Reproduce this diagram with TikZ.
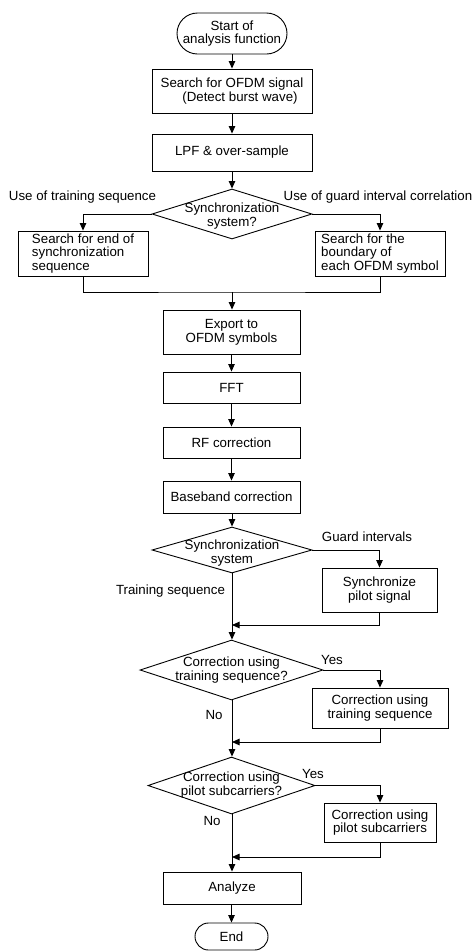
\documentclass[tikz,border=0pt]{standalone}
\usepackage{fontspec}
\setmainfont{Liberation Sans}
\usetikzlibrary{arrows.meta,shapes.geometric}
\tikzset{
  every node/.style={font=\fontsize{13.3}{13.6}\selectfont, inner sep=0pt},
  box/.style={draw, line width=0.9pt, rectangle, align=center},
  term/.style={draw, line width=0.9pt, rectangle, align=center},
  dia/.style={draw, line width=0.9pt, diamond, inner sep=0pt},
  diatext/.style={align=center},
  lbl/.style={align=center},
  ln/.style={line width=0.9pt},
  arr/.style={line width=0.9pt, -{Triangle[length=7.5pt,width=6.5pt]}}
}
\begin{document}
\begin{tikzpicture}[x=1pt,y=-1pt]
\useasboundingbox (0,0) rectangle (474,951);
% nodes
\node[term, rounded corners=20.5pt, minimum width=110pt, minimum height=41pt] (start) at (232,33.5) {Start of\\analysis function};
\node[box, minimum width=160pt, minimum height=44pt] (b1) at (232,91) {Search for OFDM signal\\\hspace*{1.2em}(Detect burst wave)};
\node[box, minimum width=160pt, minimum height=37pt] (b2) at (232,152.5) {LPF \& over-sample};
\node[dia, minimum width=160pt, minimum height=50pt] (d1) at (232,214) {};
\node[diatext] (d1t) at (232,216) {Synchronization\\system?};
\node[lbl] (l1) at (82.5,197) {Use of training sequence};
\node[lbl] (l2) at (378,197) {Use of guard interval correlation};
\node[box, align=left, minimum width=130pt, minimum height=45pt] (L) at (83,253.5) {Search for end of\\synchronization\\sequence};
\node[box, align=left, minimum width=130pt, minimum height=45pt] (R) at (380,253.5) {Search for the\\boundary of\\each OFDM symbol};
\coordinate (m1) at (232,292);
\node[box, minimum width=137pt, minimum height=44pt] (ex) at (231.5,332) {Export to\\OFDM symbols};
\node[box, minimum width=137pt, minimum height=31pt] (fft) at (231.5,387.5) {FFT};
\node[box, minimum width=137pt, minimum height=31pt] (rf) at (231.5,442.5) {RF correction};
\node[box, minimum width=137pt, minimum height=32pt] (bb) at (231.5,497) {Baseband correction};
\node[dia, minimum width=160pt, minimum height=46pt] (d2) at (232,550) {};
\node[diatext] (d2t) at (232,553) {Synchronization\\system};
\node[lbl] (l3) at (367,537) {Guard intervals};
\node[box, minimum width=115pt, minimum height=44pt] (s) at (379.5,590) {Synchronize\\pilot signal};
\node[lbl] (l4) at (170.5,591) {Training sequence};
\coordinate (j2) at (232,625);
\node[dia, minimum width=183pt, minimum height=60pt] (d3) at (231.5,670) {};
\node[diatext] (d3t) at (231.5,670) {Correction using\\training sequence?};
\node[lbl] (l5) at (332,660) {Yes};
\node[box, minimum width=136pt, minimum height=40pt] (c1) at (380,708) {Correction using\\training sequence};
\node[lbl] (l6) at (214,715) {No};
\coordinate (j3) at (232,742);
\node[dia, minimum width=167pt, minimum height=57pt] (d4) at (231.5,785.5) {};
\node[diatext] (d4t) at (231.5,785) {Correction using\\pilot subcarriers?};
\node[lbl] (l7) at (313,774) {Yes};
\node[box, minimum width=112pt, minimum height=39pt] (c2) at (380,822.5) {Correction using\\pilot subcarriers};
\node[lbl] (l8) at (212,821) {No};
\coordinate (j4) at (232,857);
\node[box, minimum width=138pt, minimum height=32pt] (an) at (232,888) {Analyze};
\node[term, rounded corners=13.5pt, minimum width=73pt, minimum height=27pt] (end) at (231.5,936.5) {End};
% connectors
\draw[arr] (start) -- (b1);
\draw[arr] (b1) -- (b2);
\draw[arr] (b2) -- (d1);
\draw[arr] (d1.west) -| (L.north);
\draw[arr] (d1.east) -| (R.north);
\draw[ln] (L.south) |- (m1) -| (R.south);
\draw[arr] (m1) -- (ex.north -| m1);
\draw[arr] (ex) -- (fft);
\draw[arr] (fft) -- (rf);
\draw[arr] (rf) -- (bb);
\draw[arr] (bb.south -| d2) -- (d2.north);
\draw[arr] (d2.east) -| (s.north);
\draw[arr] (s.south) |- (j2);
\draw[arr] (d2.south) -- (d3.north -| d2.south);
\draw[arr] (d3.east) -| (c1.north);
\draw[arr] (c1.south) |- (j3);
\draw[arr] (d3.south -| j3) -- (d4.north -| j3);
\draw[arr] (d4.east) -| (c2.north);
\draw[arr] (c2.south) |- (j4);
\draw[arr] (d4.south -| j4) -- (an.north -| j4);
\draw[arr] (an.south -| end) -- (end.north);
\end{tikzpicture}
\end{document}
